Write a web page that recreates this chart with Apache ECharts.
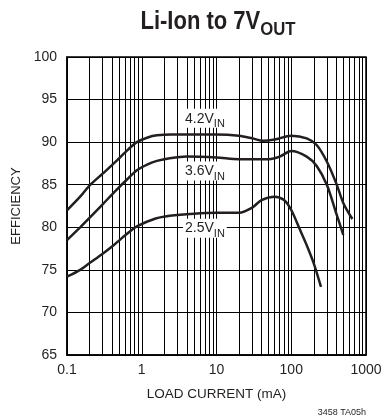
<!DOCTYPE html>
<html><head><meta charset="utf-8">
<script src="https://cdn.jsdelivr.net/npm/echarts@6/dist/echarts.min.js"></script>
<style>html,body{margin:0;padding:0;background:#fff}#c{width:386px;height:419px}</style>
</head><body><div id="c"></div>
<script>
const FONT = '"Liberation Sans",Arial,sans-serif';
const xTicks = [0.1, 1, 10, 100, 1000];
const yTicks = [65, 70, 75, 80, 85, 90, 95, 100];
const minorGrid = [0.2,0.3,0.4,0.5,0.6,0.7,0.8,0.9,2,3,4,5,6,7,8,9,20,30,40,50,60,70,80,90,200,300,400,500,600,700,800,900];

const x42 = [0.1,0.15,0.2,0.3,0.46,0.65,0.86,1.2,1.6,2.5,5,10,20,30,42,60,100,161,219,300,400,500,657];
const y42 = [82.0,83.6,84.9,86.3,87.8,89.1,90.0,90.55,90.8,90.9,90.9,90.9,90.75,90.45,90.15,90.3,90.76,90.45,89.66,87.7,85.16,82.8,80.97];
const x36 = [0.1,0.15,0.2,0.3,0.46,0.65,0.86,1.2,1.6,2.37,4,10,20,50,70,100,161,219,300,400,497];
const y36 = [78.5,80.0,81.1,82.7,84.4,85.7,86.7,87.4,87.8,88.1,88.3,88.2,88.0,88.0,88.3,88.96,88.3,87.2,84.97,81.64,79.1];
const x25 = [0.1,0.15,0.2,0.3,0.42,0.63,0.86,1.5,2.37,5,10,20,30,40,60,80,100,131,161,200,250];
const y25 = [74.2,75.0,75.8,76.9,77.9,79.2,80.1,81.0,81.35,81.6,81.7,81.7,82.3,83.2,83.6,83.2,82.03,79.7,77.9,75.77,73.0];

const seriesNames = ['4.2', '3.6', '2.5'];
const labelAt = [[7, 92.8], [7, 86.6], [7, 79.9]];

function pairs(xs, ys){ return xs.map((x,i)=>[x, ys[i]]); }
const allData = [pairs(x42,y42), pairs(x36,y36), pairs(x25,y25)];

const chart = echarts.init(document.getElementById('c'), null, {renderer:'canvas'});
const series = allData.map((d, i) => ({
  type: 'line', data: d, smooth: 0.3, symbol: 'none', silent: true,
  lineStyle: {color: '#231f20', width: 2.5},
  z: 5,
  markPoint: {
    symbol: 'rect', symbolSize: 0, silent: true,
    data: [{coord: labelAt[i]}],
    label: {
      show: true, position: 'inside',
      formatter: '{a|' + seriesNames[i] + 'V}{b|IN}',
      backgroundColor: '#fff', padding: [1, 2, 0, 2],
      rich: {
        a: {fontFamily: FONT, fontSize: 14, color: '#231f20', lineHeight: 18, verticalAlign: 'bottom', padding:[0,0,2,0]},
        b: {fontFamily: FONT, fontSize: 11, color: '#231f20', lineHeight: 18, verticalAlign: 'bottom', padding:[0,0,-2,0]}
      }
    }
  },
  markLine: i === 0 ? {
    silent: true, symbol: ['none','none'], animation: false,
    label: {show: false},
    lineStyle: {color: '#000', width: 1, type: 'solid'},
    emphasis: {disabled: true},
    data: minorGrid.map(v => ({xAxis: v}))
  } : undefined
}));

chart.setOption({
  animation: false,
  backgroundColor: '#fff',
  grid: {left: 67, right: 20, top: 57, bottom: 64, show: true, borderColor: '#000', borderWidth: 1.5},
  xAxis: {
    type: 'log', logBase: 10, min: 0.1, max: 1000,
    name: 'LOAD CURRENT (mA)', nameLocation: 'middle', nameGap: 32,
    nameTextStyle: {fontFamily: FONT, fontSize: 13.5, color: '#231f20'},
    axisLine: {show: true, lineStyle: {color: '#000', width: 1.5}},
    axisTick: {show: false},
    axisLabel: {fontFamily: FONT, fontSize: 14, color: '#231f20', margin: 8,
      formatter: v => { const t = xTicks.find(k => Math.abs(k - v) / k < 1e-6); return t === undefined ? '' : String(t); }},
    splitLine: {show: true, lineStyle: {color: '#000', width: 1}}
  },
  yAxis: {
    type: 'value', min: 65, max: 100, interval: 5,
    name: 'EFFICIENCY', nameLocation: 'middle', nameGap: 40,
    nameTextStyle: {fontFamily: FONT, fontSize: 13, color: '#231f20'},
    axisLine: {show: true, lineStyle: {color: '#000', width: 1.5}},
    axisTick: {show: false},
    axisLabel: {fontFamily: FONT, fontSize: 14, color: '#231f20', margin: 10,
      formatter: v => yTicks.includes(v) ? String(v) : ''},
    splitLine: {show: true, lineStyle: {color: '#000', width: 1}}
  },
  graphic: [{
    type: 'text', x: 218, y: 21, scaleX: 0.88, scaleY: 1,
    style: {
      text: '{a|Li-Ion to 7V}{b|OUT}', align: 'center', verticalAlign: 'middle',
      rich: {
        a: {fontFamily: FONT, fontSize: 25, fontWeight: 'bold', fill: '#231f20', lineHeight: 28, verticalAlign: 'bottom'},
        b: {fontFamily: FONT, fontSize: 19, fontWeight: 'bold', fill: '#231f20', lineHeight: 28, verticalAlign: 'bottom', padding:[0,0,-4,0]}
      }
    }
  }, {
    type: 'text', right: 20, bottom: 2,
    style: {text: '3458 TA05h', fontFamily: FONT, fontSize: 9, fill: '#231f20'}
  }],
  series: series
});
</script>
</body></html>
